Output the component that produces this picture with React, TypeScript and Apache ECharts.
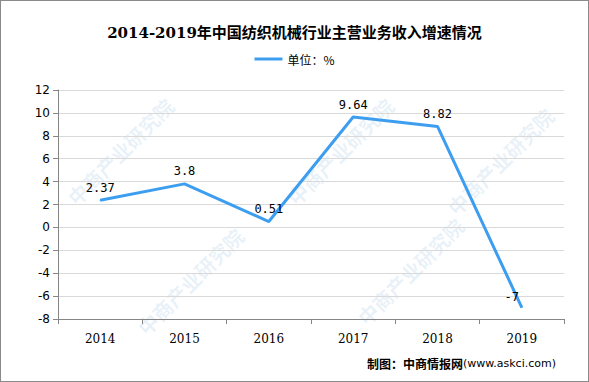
import React, { useEffect, useRef } from "react";
import * as echarts from "echarts";

const categories = ["2014", "2015", "2016", "2017", "2018", "2019"];
const values = [2.37, 3.8, 0.51, 9.64, 8.82, -7];
const seriesName = "单位：%";
const titleText = "2014-2019年中国纺织机械行业主营业务收入增速情况";
const footerText = "制图：中商情报网";
const footerSite = "(www.askci.com)";
const watermark = "中商产业研究院";

export default function App() {
  const ref = useRef<HTMLDivElement>(null);
  useEffect(() => {
    if (!ref.current) return;
    const chart = echarts.init(ref.current, null, { renderer: "svg" });
    const spots = [
      [70, 200], [290, 200], [450, 210],
      [140, 330], [360, 320],
    ];
    const wm: any[] = spots.map(([x, y]) => ({
      type: "text",
      x,
      y,
      rotation: Math.PI / 4,
      silent: true,
      z: 0,
      style: {
        text: watermark,
        fill: "rgba(120,170,215,0.16)",
        font: "bold 20px 'Noto Sans CJK SC'",
        textAlign: "left",
        textVerticalAlign: "middle",
      },
    }));
    chart.setOption({
      animation: false,
      backgroundColor: "#ffffff",
      title: {
        text: titleText,
        left: "center",
        top: 19,
        textStyle: {
          fontSize: 15,
          fontWeight: "bold",
          color: "#000",
          fontFamily: "'DejaVu Serif', 'Noto Sans CJK SC'",
        },
      },
      legend: {
        top: 47,
        left: "center",
        itemWidth: 28,
        itemHeight: 3,
        icon: "rect",
        textStyle: { fontSize: 12, color: "#000", fontFamily: "'Noto Sans CJK SC'" },
        data: [seriesName],
      },
      grid: { left: 57, right: 24, top: 89, bottom: 62, containLabel: false },
      xAxis: {
        type: "category",
        data: categories,
        boundaryGap: true,
        axisLine: { onZero: false, lineStyle: { color: "#868686" } },
        axisTick: { show: true, alignWithLabel: false, length: 5, lineStyle: { color: "#868686" } },
        axisLabel: { color: "#000", fontSize: 12, margin: 14, fontFamily: "'DejaVu Serif'" },
      },
      yAxis: {
        type: "value",
        min: -8,
        max: 12,
        interval: 2,
        axisLine: { show: true, lineStyle: { color: "#868686" } },
        axisTick: { show: true, length: 5, lineStyle: { color: "#868686" } },
        axisLabel: { color: "#000", fontSize: 12, margin: 8, fontFamily: "'DejaVu Sans'" },
        splitLine: { lineStyle: { color: "#d9d9d9" } },
      },
      series: [
        {
          name: seriesName,
          type: "line",
          data: values.map((v, i) =>
            i === values.length - 1
              ? { value: v, label: { offset: [-10, 2] } }
              : v
          ),
          symbol: "circle",
          symbolSize: 1,
          showSymbol: true,
          lineStyle: { color: "#3d9ef0", width: 3 },
          itemStyle: { color: "#3d9ef0" },
          label: {
            show: true,
            position: "top",
            distance: 6,
            color: "#000",
            fontSize: 12,
            fontFamily: "'DejaVu Sans Mono'",
          },
          z: 5,
        },
      ],
      graphic: [
        ...wm,
        {
          type: "group",
          right: 32,
          top: 356,
          z: 10,
          children: [
            {
              type: "text",
              x: 0,
              y: 0,
              style: { text: footerText, fill: "#000", font: "bold 12px 'Noto Sans CJK SC'" },
            },
            {
              type: "text",
              x: 96,
              y: 1,
              style: { text: footerSite, fill: "#000", font: "11px 'DejaVu Sans'" },
            },
          ],
        },
      ],
    });
    return () => chart.dispose();
  }, []);
  return (
    <div
      ref={ref}
      style={{
        position: "fixed",
        left: 0,
        top: 0,
        width: 589,
        height: 382,
        boxSizing: "border-box",
        border: "1px solid #8a8a8a",
      }}
    />
  );
}
